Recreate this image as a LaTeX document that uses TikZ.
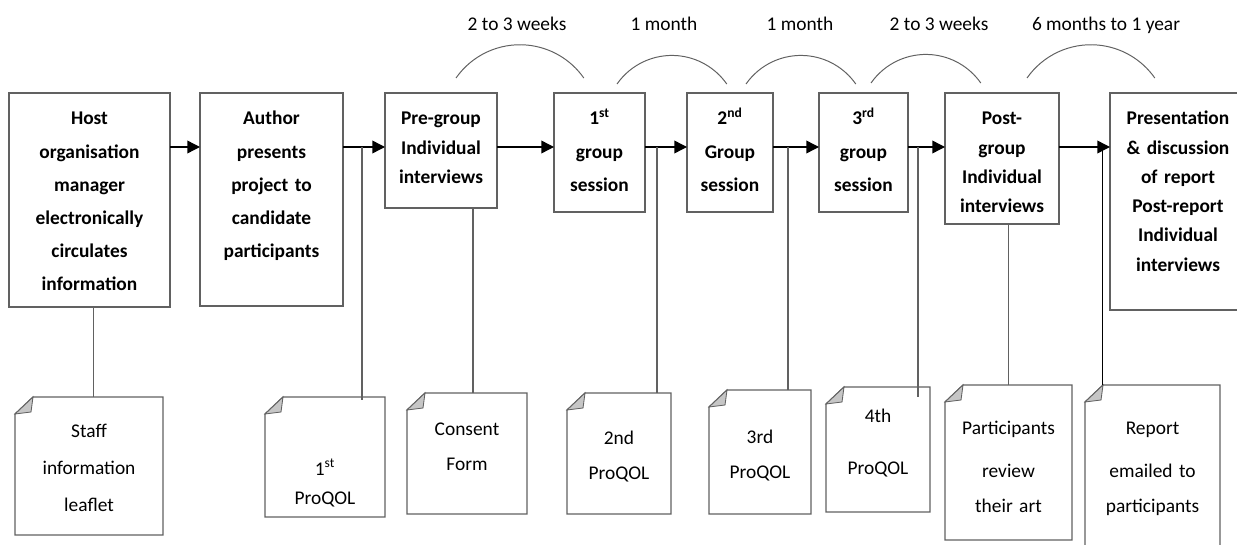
\documentclass[tikz,border=0pt]{standalone}
\usepackage{fontspec}
\setmainfont{Carlito}
\usetikzlibrary{positioning, arrows.meta}
\definecolor{lineGrey}{gray}{0.38}
\tikzstyle{stage} = [rectangle, draw=lineGrey, line width=0.9pt, anchor=north west, inner sep=0pt, outer sep=0pt,
text height=0.8cm, align=center, font=\bfseries\fontsize{13.8}{23.5}\selectfont]
\tikzstyle{tight} = [font=\bfseries\fontsize{13.8}{20.8}\selectfont]
\tikzstyle{note} = [rectangle, anchor=north west, inner sep=0pt, outer sep=0pt, align=center,
font=\fontsize{13.8}{24.9}\selectfont,
append after command={\pgfextra{
    \draw[lineGrey, line width=0.9pt] ([yshift=-0.425cm]\tikzlastnode.north west)
        -- ([xshift=0.45cm]\tikzlastnode.north west) -- (\tikzlastnode.north east)
        -- (\tikzlastnode.south east) -- (\tikzlastnode.south west) -- cycle;
    \filldraw[lineGrey, fill=gray!45, line width=0.6pt] ([yshift=-0.425cm]\tikzlastnode.north west)
        -- ([xshift=0.45cm]\tikzlastnode.north west)
        -- ([xshift=0.4cm, yshift=-0.375cm]\tikzlastnode.north west) -- cycle;
}}]
\tikzstyle{arrow} = [line width=1pt, ->, >={Triangle[length=9pt, width=9pt]}]
\tikzstyle{link} = [draw=lineGrey, line width=0.9pt]
\tikzstyle{span} = [draw=lineGrey, line width=0.7pt]
\tikzstyle{spanLabel} = [anchor=base, inner sep=0pt, font=\fontsize{13.8}{16}\selectfont]

\begin{document}
\begin{tikzpicture}

    \useasboundingbox (0,0) rectangle (30.925,-13.6);

    \node (host) [stage, text width=4.025cm, text depth=4.55cm] at (0.225,-2.325) {Host\\organisation\\manager\\electronically\\circulates\\information};
    \node (author) [stage, below right=0cm and 0.75cm of host.north east, text width=3.575cm, text depth=4.525cm] {Author\\presents\\project to\\candidate\\participants};
    \node (preGroup) [stage, tight, below right=0cm and 1.05cm of author.north east, text width=2.8cm, text depth=2.075cm] {Pre-group\\Individual\\interviews};
    \node (firstSes) [stage, below right=0cm and 1.425cm of preGroup.north east, text width=2.275cm, text depth=2.175cm] {1\textsuperscript{st}\\group\\session};
    \node (secondSes) [stage, below right=0cm and 1.05cm of firstSes.north east, text width=2.15cm, text depth=2.175cm] {2\textsuperscript{nd}\\Group\\session};
    \node (thirdSes) [stage, below right=0cm and 1.15cm of secondSes.north east, text width=2.225cm, text depth=2.175cm] {3\textsuperscript{rd}\\group\\session};
    \node (postGroup) [stage, tight, below right=0cm and 0.925cm of thirdSes.north east, text width=2.85cm, text depth=2.475cm] {Post-\\group\\Individual\\interviews};
    \node (present) [stage, tight, below right=0cm and 1.275cm of postGroup.north east, text width=3.4cm, text depth=4.625cm] {Presentation\\\& discussion\\of report\\Post-report\\Individual\\interviews};

    \node (staffInfo) [note, text width=3.7cm, text height=1cm, text depth=2.45cm] at (0.375,-9.925) {Staff\\[0.06cm]information\\[0.06cm]leaflet};
    \node (proqolOne) [note, text width=3cm, text height=1.95cm, text depth=1.05cm] at (6.625,-9.925) {1\textsuperscript{st}\\[-0.15cm]ProQOL};
    \node (consent) [note, text width=3cm, text height=1.05cm, text depth=1.975cm] at (10.175,-9.825) {Consent\\Form};
    \node (proqolTwo) [note, text width=2.6cm, text height=1.275cm, text depth=1.75cm] at (14.175,-9.825) {2nd\\ProQOL};
    \node (proqolThree) [note, text width=2.55cm, text height=1.325cm, text depth=1.775cm] at (17.725,-9.75) {3rd\\ProQOL};
    \node (proqolFour) [note, text width=2.6cm, text height=0.875cm, text depth=2.25cm] at (20.65,-9.675) {4th\\[0.425cm]ProQOL};
    \node (artReview) [note, text width=3.175cm, text height=1.225cm, text depth=2.65cm] at (23.625,-9.625) {Participants\\[0.2cm]review\\their art};
    \node (reportMail) [note, text width=3.375cm, text height=1.225cm, text depth=2.9cm] at (27.125,-9.625) {Report\\[0.2cm]emailed to\\participants};

    % main time line
    \coordinate (axis) at (0,-3.675);
    \draw[arrow] (host.east |- axis) -- (author.west |- axis);
    \draw[arrow] (author.east |- axis) -- (preGroup.west |- axis);
    \draw[arrow] (preGroup.east |- axis) -- (firstSes.west |- axis);
    \draw[arrow] (firstSes.east |- axis) -- (secondSes.west |- axis);
    \draw[arrow] (secondSes.east |- axis) -- (thirdSes.west |- axis);
    \draw[arrow] (thirdSes.east |- axis) -- (postGroup.west |- axis);
    \draw[arrow] (postGroup.east |- axis) -- (present.west |- axis);

    % links down to the documents
    \coordinate (jOne) at (9.05,-3.675);
    \coordinate (jTwo) at (16.425,-3.675);
    \coordinate (jThree) at (19.7,-3.675);
    \coordinate (jFour) at (22.95,-3.675);
    \coordinate (jFive) at (27.55,-3.675);

    \draw[link] ([xshift=0.1cm]host.south) -- ([xshift=0.1cm]host.south |- staffInfo.north);
    \draw[link] (jOne) -- ([yshift=-0.075cm]jOne |- proqolOne.north);
    \draw[link] ([xshift=0.15cm]consent.north) -- ([xshift=0.15cm]consent.north |- preGroup.south);
    \draw[link] (jTwo) -- (jTwo |- proqolTwo.north);
    \draw[link] (jThree) -- (jThree |- proqolThree.north);
    \draw[link] (jFour) -- ([yshift=-0.25cm]jFour |- proqolFour.north);
    \draw[link] (artReview.north) -- (artReview.north |- postGroup.south);
    \draw[link, draw=black, line width=0.6pt] (jFive) -- (jFive |- reportMail.north);

    % time spans
    \draw[span] (11.4,-1.95) arc[start angle=145, end angle=35, radius=1.95cm];
    \draw[span] (15.425,-2.1) arc[start angle=145, end angle=35, radius=1.675cm];
    \draw[span] (18.65,-2.1) arc[start angle=145, end angle=35, radius=1.675cm];
    \draw[span] (21.775,-2.075) arc[start angle=145, end angle=35, radius=1.675cm];
    \draw[span] (25.675,-1.95) arc[start angle=145, end angle=35, radius=1.95cm];

    \node (spanA) [spanLabel] at (12.925,-0.775) {2 to 3 weeks};
    \node (spanB) [spanLabel] at (16.6,-0.775) {1 month};
    \node (spanC) [spanLabel] at (20,-0.775) {1 month};
    \node (spanD) [spanLabel] at (23.475,-0.775) {2 to 3 weeks};
    \node (spanE) [spanLabel] at (27.65,-0.775) {6 months to 1 year};

\end{tikzpicture}
\end{document}
